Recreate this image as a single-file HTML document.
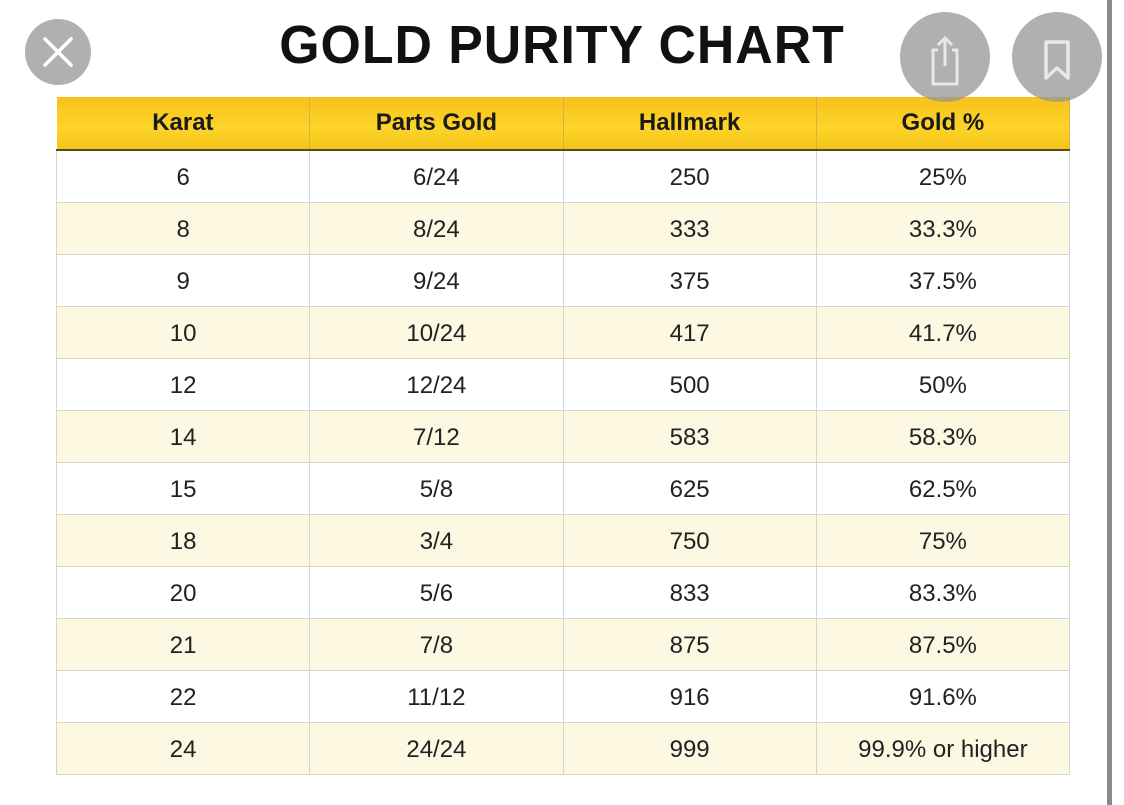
<!DOCTYPE html>
<html><head><style>
html,body{margin:0;padding:0;width:1124px;height:805px;background:#fff;overflow:hidden;position:relative;font-family:"Liberation Sans",Arial,sans-serif}
.title{position:absolute;left:0;width:1124px;top:14px;text-align:center;font-size:54px;font-weight:bold;color:#111;letter-spacing:1px;transform:scaleX(0.96)}
table{position:absolute;left:56px;top:97px;border-collapse:collapse;width:1014px}
th{height:52px;background:linear-gradient(#f7c21a,#fcd42a 60%,#f5c418);font-size:24px;font-weight:bold;color:#1a1a1a;border-right:1px solid #d8b040;border-bottom:2px solid #5a4a20;padding:0}
td{height:52px;font-size:24px;color:#222;text-align:center;border:1px solid #d6d6d0;padding:4px 0 0 0;box-sizing:border-box;width:253px}
tr:nth-child(odd) td{background:#fdf8e2}
.c{position:absolute;border-radius:50%;background:rgba(150,150,150,0.75)}
.sb{position:absolute;left:1107px;top:0;width:5px;height:805px;background:#8a8a8a}
</style></head><body>
<div class="title">GOLD PURITY CHART</div>
<table>
<tr><th>Karat</th><th>Parts Gold</th><th>Hallmark</th><th>Gold %</th></tr>
<tr><td>6</td><td>6/24</td><td>250</td><td>25%</td></tr>
<tr><td>8</td><td>8/24</td><td>333</td><td>33.3%</td></tr>
<tr><td>9</td><td>9/24</td><td>375</td><td>37.5%</td></tr>
<tr><td>10</td><td>10/24</td><td>417</td><td>41.7%</td></tr>
<tr><td>12</td><td>12/24</td><td>500</td><td>50%</td></tr>
<tr><td>14</td><td>7/12</td><td>583</td><td>58.3%</td></tr>
<tr><td>15</td><td>5/8</td><td>625</td><td>62.5%</td></tr>
<tr><td>18</td><td>3/4</td><td>750</td><td>75%</td></tr>
<tr><td>20</td><td>5/6</td><td>833</td><td>83.3%</td></tr>
<tr><td>21</td><td>7/8</td><td>875</td><td>87.5%</td></tr>
<tr><td>22</td><td>11/12</td><td>916</td><td>91.6%</td></tr>
<tr><td>24</td><td>24/24</td><td>999</td><td>99.9% or higher</td></tr>
</table>
<div class="c" style="left:25px;top:19px;width:66px;height:66px;background:#b0b0b0"></div>
<svg style="position:absolute;left:25px;top:19px" width="66" height="66"><path d="M20 20L46 46M46 20L20 46" stroke="#fff" stroke-width="3.5" stroke-linecap="round"/></svg>
<div class="c" style="left:900px;top:12px;width:90px;height:90px"></div>
<svg style="position:absolute;left:900px;top:12px" width="90" height="90"><path d="M38 38H33V72H57V38H52M45 54V26M38 33L45 26L52 33" fill="none" stroke="#e8e8e8" stroke-width="3"/></svg>
<div class="c" style="left:1012px;top:12px;width:90px;height:90px"></div>
<svg style="position:absolute;left:1012px;top:12px" width="90" height="90"><path d="M34 30H56V66L45 56L34 66Z" fill="none" stroke="#e8e8e8" stroke-width="3.5" stroke-linejoin="round"/></svg>
<div class="sb"></div>
</body></html>
